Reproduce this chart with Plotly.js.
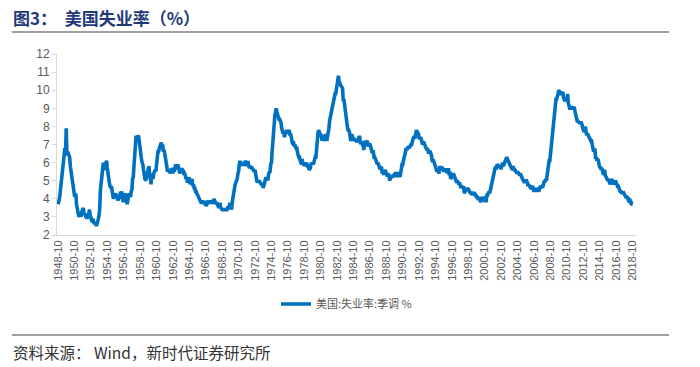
<!DOCTYPE html>
<html>
<head>
<meta charset="utf-8">
<script src="https://cdn.plot.ly/plotly-3.0.1.min.js"></script>
<style>html,body{margin:0;padding:0;background:#fff;}#chart{width:700px;height:367px;}</style>
</head>
<body>
<div id="chart"></div>
<script>
// US unemployment rate, seasonally adjusted (%), monthly from 1948-10
var startYear = 1948, startMonth = 10;
var u1940s = [3.7,3.8,4.0,
  4.3,4.7,5.0,5.3,6.1,6.2,6.7,6.8,6.6,7.9,6.4,6.6];
var u1950s = [
  6.5,6.4,6.3,5.8,5.5,5.4,5.0,4.5,4.4,4.2,4.2,4.3,
  3.7,3.4,3.4,3.1,3.0,3.2,3.1,3.1,3.3,3.5,3.5,3.1,
  3.2,3.1,2.9,2.9,3.0,3.0,3.2,3.4,3.1,3.0,2.8,2.7,
  2.9,2.6,2.6,2.7,2.5,2.5,2.6,2.7,2.9,3.1,3.5,4.5,
  4.9,5.2,5.7,5.9,5.9,5.6,5.8,6.0,6.1,5.7,5.3,5.0,
  4.9,4.7,4.6,4.7,4.3,4.2,4.0,4.2,4.1,4.3,4.2,4.2,
  4.0,3.9,4.2,4.0,4.3,4.3,4.4,4.1,3.9,3.9,4.3,4.2,
  4.2,3.9,3.7,3.9,4.1,4.3,4.2,4.1,4.4,4.5,5.1,5.2,
  5.8,6.4,6.7,7.4,7.4,7.3,7.5,7.4,7.1,6.7,6.2,6.2,
  6.0,5.9,5.6,5.2,5.1,5.0,5.1,5.2,5.5,5.7,5.8,5.3];
var u1960s = [
  5.2,4.8,5.4,5.2,5.1,5.4,5.5,5.6,5.5,6.1,6.1,6.6,
  6.6,6.9,6.9,7.0,7.1,6.9,7.0,6.6,6.7,6.5,6.1,6.0,
  5.8,5.5,5.6,5.6,5.5,5.5,5.4,5.7,5.6,5.4,5.7,5.5,
  5.7,5.9,5.7,5.7,5.9,5.6,5.6,5.4,5.5,5.5,5.7,5.5,
  5.6,5.4,5.4,5.3,5.1,5.2,4.9,5.0,5.1,5.1,4.8,5.0,
  4.9,5.1,4.7,4.8,4.6,4.6,4.4,4.4,4.3,4.2,4.1,4.0,
  4.0,3.8,3.8,3.8,3.9,3.8,3.8,3.8,3.7,3.7,3.6,3.8,
  3.9,3.8,3.8,3.8,3.8,3.9,3.8,3.8,3.8,4.0,3.9,3.8,
  3.7,3.8,3.7,3.5,3.5,3.7,3.7,3.5,3.4,3.4,3.4,3.4,
  3.4,3.4,3.4,3.4,3.4,3.5,3.5,3.5,3.7,3.7,3.5,3.5];
var u1970s = [
  3.9,4.2,4.4,4.6,4.8,4.9,5.0,5.1,5.4,5.5,5.9,6.1,
  5.9,5.9,6.0,5.9,5.9,5.9,6.0,6.1,6.0,5.8,6.0,6.0,
  5.8,5.7,5.8,5.7,5.7,5.7,5.6,5.6,5.5,5.6,5.3,5.2,
  4.9,5.0,4.9,5.0,4.9,4.9,4.8,4.8,4.8,4.6,4.8,4.9,
  5.1,5.2,5.1,5.1,5.1,5.4,5.5,5.5,5.9,6.0,6.6,7.2,
  8.1,8.1,8.6,8.8,9.0,8.8,8.6,8.4,8.4,8.4,8.3,8.2,
  7.9,7.7,7.6,7.7,7.4,7.6,7.8,7.8,7.6,7.7,7.8,7.8,
  7.5,7.6,7.4,7.2,7.0,7.2,6.9,7.0,6.8,6.8,6.8,6.4,
  6.4,6.3,6.3,6.1,6.0,5.9,6.2,5.9,6.0,5.8,5.9,6.0,
  5.9,5.9,5.8,5.8,5.6,5.7,5.7,6.0,5.9,6.0,5.9,6.0];
var u1980s = [
  6.3,6.3,6.3,6.9,7.5,7.6,7.8,7.7,7.5,7.5,7.5,7.2,
  7.5,7.4,7.4,7.2,7.5,7.5,7.2,7.4,7.6,7.9,8.3,8.5,
  8.6,8.9,9.0,9.3,9.4,9.6,9.8,9.8,10.1,10.4,10.8,10.8,
  10.4,10.4,10.3,10.2,10.1,10.1,9.4,9.5,9.2,8.8,8.5,8.3,
  8.0,7.8,7.8,7.7,7.4,7.2,7.5,7.5,7.3,7.4,7.2,7.3,
  7.3,7.2,7.2,7.3,7.2,7.4,7.4,7.1,7.1,7.1,7.0,7.0,
  6.7,7.2,7.2,7.1,7.2,7.2,7.0,6.9,7.0,7.0,6.9,6.6,
  6.6,6.6,6.6,6.3,6.3,6.2,6.1,6.0,5.9,6.0,5.8,5.7,
  5.7,5.7,5.7,5.4,5.6,5.4,5.4,5.6,5.4,5.4,5.3,5.3,
  5.4,5.2,5.0,5.2,5.2,5.3,5.2,5.2,5.3,5.3,5.4,5.4];
var u1990s = [
  5.4,5.3,5.2,5.4,5.4,5.2,5.5,5.7,5.9,5.9,6.2,6.3,
  6.4,6.6,6.8,6.7,6.9,6.9,6.8,6.9,6.9,7.0,7.0,7.3,
  7.3,7.4,7.4,7.4,7.6,7.8,7.7,7.6,7.6,7.3,7.4,7.4,
  7.3,7.1,7.0,7.1,7.1,7.0,6.9,6.8,6.7,6.8,6.6,6.5,
  6.6,6.6,6.5,6.4,6.1,6.1,6.1,6.0,5.9,5.8,5.6,5.5,
  5.6,5.4,5.4,5.8,5.6,5.6,5.7,5.7,5.6,5.5,5.6,5.6,
  5.6,5.5,5.5,5.6,5.6,5.3,5.5,5.1,5.2,5.2,5.4,5.4,
  5.3,5.2,5.2,5.1,4.9,5.0,4.9,4.8,4.9,4.7,4.6,4.7,
  4.6,4.6,4.7,4.3,4.4,4.5,4.5,4.5,4.6,4.5,4.4,4.4,
  4.3,4.4,4.2,4.3,4.2,4.3,4.3,4.2,4.2,4.1,4.1,4.0];
var u2000s = [
  4.0,4.1,4.0,3.8,4.0,4.0,4.0,4.1,3.9,3.9,3.9,3.9,
  4.2,4.2,4.3,4.4,4.3,4.5,4.6,4.9,5.0,5.3,5.5,5.7,
  5.7,5.7,5.7,5.9,5.8,5.8,5.8,5.7,5.7,5.7,5.9,6.0,
  5.8,5.9,5.9,6.0,6.1,6.3,6.2,6.1,6.1,6.0,5.8,5.7,
  5.7,5.6,5.8,5.6,5.6,5.6,5.5,5.4,5.4,5.5,5.4,5.4,
  5.3,5.4,5.2,5.2,5.1,5.0,5.0,4.9,5.0,5.0,5.0,4.9,
  4.7,4.8,4.7,4.7,4.6,4.6,4.7,4.7,4.5,4.4,4.5,4.4,
  4.6,4.5,4.4,4.5,4.4,4.6,4.7,4.6,4.7,4.7,4.7,5.0,
  5.0,4.9,5.1,5.0,5.4,5.6,5.8,6.1,6.1,6.5,6.8,7.3,
  7.8,8.3,8.7,9.0,9.4,9.5,9.5,9.6,9.8,10.0,9.9,9.9];
var u2010s = [
  9.8,9.8,9.9,9.9,9.6,9.4,9.4,9.5,9.5,9.4,9.8,9.3,
  9.1,9.0,9.0,9.1,9.0,9.1,9.0,9.0,9.0,8.8,8.6,8.5,
  8.3,8.3,8.2,8.2,8.2,8.2,8.2,8.1,7.8,7.8,7.7,7.9,
  8.0,7.7,7.5,7.6,7.5,7.5,7.3,7.2,7.2,7.2,6.9,6.7,
  6.6,6.7,6.7,6.2,6.3,6.1,6.2,6.1,5.9,5.7,5.8,5.6,
  5.7,5.5,5.4,5.4,5.6,5.3,5.2,5.1,5.0,5.0,5.1,5.0,
  4.8,4.9,5.0,5.1,4.8,4.9,4.8,4.9,5.0,4.9,4.7,4.7,
  4.7,4.6,4.4,4.4,4.4,4.3,4.3,4.4,4.3,4.2,4.2,4.1,
  4.1,4.1,4.0,4.0,3.8,4.0,3.8,3.8,3.7,3.7];
var seriesName = "美国:失业率:季调 %";
var titleText = "图3：  美国失业率（%）";
var sourceText = "资料来源： Wind，新时代证券研究所";

var values = [].concat(u1940s, u1950s, u1960s, u1970s, u1980s, u1990s, u2000s, u2010s);
var dates = [];
for (var i = 0; i < values.length; i++) {
  var m = startMonth - 1 + i;
  var y = startYear + Math.floor(m / 12);
  var mm = (m % 12) + 1;
  dates.push(y + "-" + (mm < 10 ? "0" + mm : "" + mm));
}
var tickLabels = dates.filter(function (d, i) { return i % 24 === 0; });

var trace = {
  x: dates, y: values, type: "scatter", mode: "lines", name: seriesName,
  line: {color: "#0070C0", width: 3.6}, showlegend: true
};
var layout = {
  width: 700, height: 367,
  margin: {l: 57, r: 64, t: 54, b: 132},
  paper_bgcolor: "#fff", plot_bgcolor: "#fff",
  font: {family: "Noto Sans CJK SC, Noto Sans, sans-serif", color: "#595959"},
  xaxis: {
    type: "category", range: [-1.5, 845],
    tickmode: "array", tickvals: tickLabels, ticktext: tickLabels,
    tickangle: -90, tickfont: {size: 11, color: "#595959", family: "Liberation Sans, Arial, sans-serif"},
    showgrid: false, zeroline: false, showline: true, linecolor: "#d9d9d9", linewidth: 1,
    ticks: "", automargin: false
  },
  yaxis: {
    range: [2, 12], dtick: 1, tick0: 2,
    tickfont: {size: 12, color: "#595959", family: "Liberation Sans, Arial, sans-serif"},
    showgrid: false, zeroline: false, showline: true, linecolor: "#d9d9d9", linewidth: 1,
    ticks: "outside", ticklen: 4, tickcolor: "#d9d9d9", automargin: false
  },
  showlegend: true,
  legend: {
    orientation: "h", x: 0.5, xanchor: "center", y: -0.381, yanchor: "middle",
    font: {size: 11, color: "#595959", family: "Noto Sans CJK SC, sans-serif"}
  },
  shapes: [
    {type: "line", xref: "paper", yref: "paper", x0: -0.078, x1: 1.057, y0: 1.1215, y1: 1.1215,
     line: {color: "#808080", width: 1.5}},
    {type: "line", xref: "paper", yref: "paper", x0: -0.078, x1: 1.057, y0: -0.5525, y1: -0.5525,
     line: {color: "#808080", width: 1.5}}
  ],
  annotations: [
    {text: "<b>" + titleText + "</b>", xref: "paper", yref: "paper", x: -0.0795, y: 1.0, xanchor: "left", yanchor: "middle",
     yshift: 37, showarrow: false, font: {size: 17, color: "#1F3A7A", family: "Noto Sans CJK SC, sans-serif"}},
    {text: sourceText, xref: "paper", yref: "paper", x: -0.0795, y: -0.647, xanchor: "left", yanchor: "middle",
     showarrow: false, font: {size: 15.5, color: "#333333", family: "Noto Sans CJK SC, sans-serif"}}
  ]
};
Plotly.newPlot("chart", [trace], layout, {displayModeBar: false, staticPlot: true});
</script>
</body>
</html>
